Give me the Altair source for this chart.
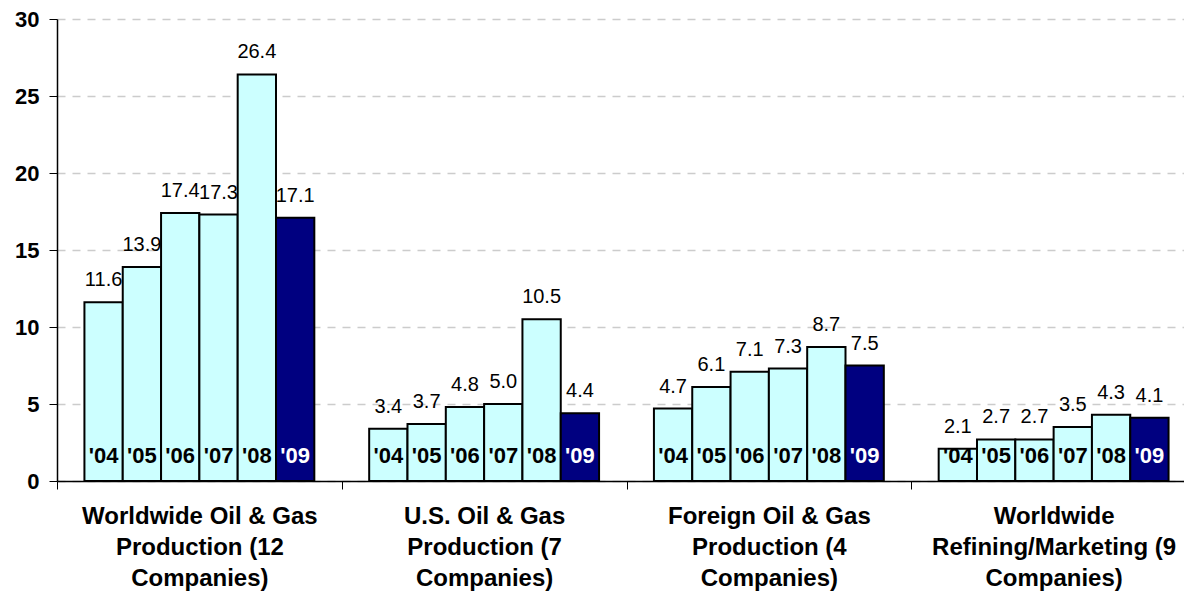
import altair as alt
import pandas as pd

# Segment names (line breaks mark the wrapped axis labels)
groups = [
    "Worldwide Oil & Gas\nProduction (12\nCompanies)",
    "U.S. Oil & Gas\nProduction (7\nCompanies)",
    "Foreign Oil & Gas\nProduction (4\nCompanies)",
    "Worldwide\nRefining/Marketing (9\nCompanies)",
]
years = ["'04", "'05", "'06", "'07", "'08", "'09"]

worldwide_production = [11.6, 13.9, 17.4, 17.3, 26.4, 17.1]
us_production = [3.4, 3.7, 4.8, 5.0, 10.5, 4.4]
foreign_production = [4.7, 6.1, 7.1, 7.3, 8.7, 7.5]
refining_marketing = [2.1, 2.7, 2.7, 3.5, 4.3, 4.1]

series = [worldwide_production, us_production, foreign_production, refining_marketing]

rows = []
for g, vals in zip(groups, series):
    for y, v in zip(years, vals):
        rows.append({"group": g, "year": y, "value": v, "current": y == years[-1]})
df = pd.DataFrame(rows)

FONT = "Liberation Sans"

x_enc = alt.X(
    "group:N",
    sort=groups,
    scale=alt.Scale(range=[0, 1139], paddingInner=0, paddingOuter=0),
    axis=alt.Axis(
        title=None,
        labelAngle=0,
        labelExpr="split(datum.label, '\\n')",
        labelFont=FONT,
        labelFontSize=24,
        labelFontWeight="bold",
        labelColor="black",
        labelLineHeight=31,
        labelLimit=400,
        labelPadding=15,
        labelBaseline="top",
        tickBand="extent",
        tickSize=8,
        tickColor="black",
        domainColor="black",
        domainWidth=1.5,
        grid=False,
    ),
)
xoff_enc = alt.XOffset(
    "year:N", sort=years, scale=alt.Scale(paddingInner=0, paddingOuter=0.716)
)
y_enc = alt.Y(
    "value:Q",
    scale=alt.Scale(domain=[0, 30], nice=False, zero=True),
    axis=alt.Axis(
        title=None,
        values=[0, 5, 10, 15, 20, 25, 30],
        labelFont=FONT,
        labelFontSize=22,
        labelFontWeight="bold",
        labelColor="black",
        labelPadding=10,
        tickSize=8,
        tickColor="black",
        domainColor="black",
        domainWidth=1.5,
        grid=True,
        gridColor="#cccccc",
        gridDash=[8, 7],
        gridWidth=1.5,
    ),
)

base = alt.Chart(df)

bars = base.mark_bar(stroke="black", strokeWidth=2).encode(
    x=x_enc,
    xOffset=xoff_enc,
    y=y_enc,
    color=alt.condition("datum.current", alt.value("#000080"), alt.value("#CCFFFF")),
)

values = base.mark_text(
    font=FONT, fontSize=20, color="black", baseline="alphabetic", dy=-16
).encode(
    x=x_enc,
    xOffset=xoff_enc,
    y=y_enc,
    text=alt.Text("value:Q", format=".1f"),
)

year_labels = base.mark_text(
    font=FONT, fontSize=22, fontWeight="bold", baseline="middle", dy=-25
).encode(
    x=x_enc,
    xOffset=xoff_enc,
    y=alt.datum(0),
    text="year:N",
    color=alt.condition("datum.current", alt.value("white"), alt.value("black")),
)

chart = (
    alt.layer(bars, values, year_labels)
    .properties(
        width=1127,
        height=462,
        autosize=alt.AutoSizeParams(type="none"),
        padding={"left": 57, "top": 19, "right": 0, "bottom": 111},
        background="white",
    )
    .configure_view(stroke=None)
)

chart.save("out.html", embed_options={"renderer": "svg", "actions": False})
